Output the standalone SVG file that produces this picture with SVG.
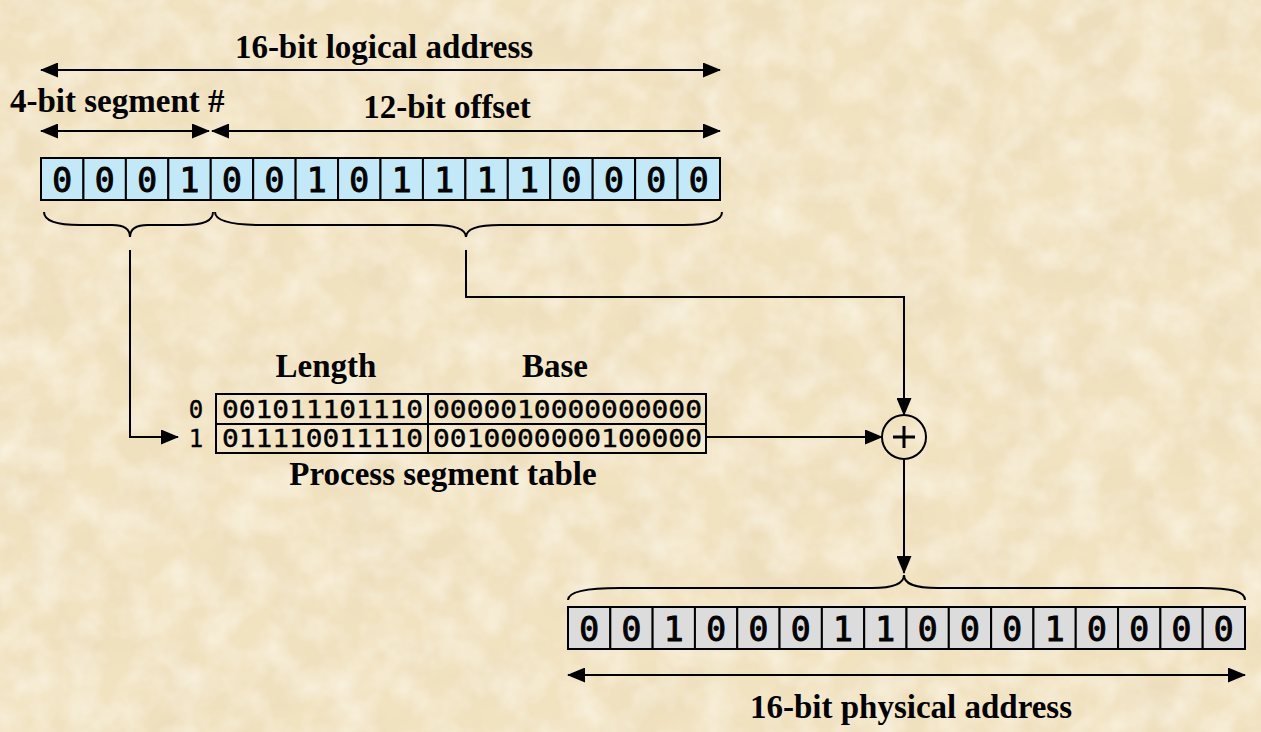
<svg xmlns="http://www.w3.org/2000/svg" width="1261" height="732" viewBox="0 0 1261 732">
<defs>
<filter id="paper" x="0" y="0" width="100%" height="100%">
<feTurbulence type="fractalNoise" baseFrequency="0.015" numOctaves="4" seed="7" result="n"/>
<feColorMatrix in="n" type="matrix" values="0 0 0 0 0.80  0 0 0 0 0.68  0 0 0 0 0.47  0.9 0 0 0 -0.36"/>
</filter>
<filter id="paper2" x="0" y="0" width="100%" height="100%">
<feTurbulence type="fractalNoise" baseFrequency="0.03" numOctaves="3" seed="21" result="n"/>
<feColorMatrix in="n" type="matrix" values="0 0 0 0 1  0 0 0 0 0.98  0 0 0 0 0.92  0 1.0 0 0 -0.35"/>
</filter>
<marker id="ah" markerUnits="userSpaceOnUse" markerWidth="18" markerHeight="15" refX="17" refY="7.5" orient="auto-start-reverse" viewBox="0 0 18 15">
<path d="M0,0 L18,7.5 L0,15 z" fill="#000"/>
</marker>
</defs>
<style>
.title{font-family:"Liberation Serif",serif;font-weight:bold;font-size:33px;fill:#000}
.bit{font-family:"DejaVu Sans Mono",monospace;font-size:33px;fill:#000;stroke:#000;stroke-width:1;text-anchor:middle}
.tbl{font-family:"DejaVu Sans Mono",monospace;font-size:24px;fill:#000;stroke:#000;stroke-width:0.4}
.cellT{fill:#c3e8f8;stroke:#000;stroke-width:2}
.cellB{fill:#dcdcdc;stroke:#000;stroke-width:2}
.ln{fill:none;stroke:#000;stroke-width:2}
.arr{fill:none;stroke:#000;stroke-width:2;marker-end:url(#ah)}
.darr{fill:none;stroke:#000;stroke-width:2;marker-end:url(#ah);marker-start:url(#ah)}
</style>
<rect width="1261" height="732" fill="#f1e2c0"/>
<rect width="1261" height="732" filter="url(#paper)"/>
<rect width="1261" height="732" filter="url(#paper2)"/>

<g id="logical-labels">
<text class="title" x="384" y="58" text-anchor="middle">16-bit logical address</text>
<line class="darr" x1="41" y1="70" x2="720" y2="70"/>
<text class="title" x="10" y="112">4-bit segment #</text>
<line class="darr" x1="41" y1="131" x2="209" y2="131"/>
<text class="title" x="447" y="118" text-anchor="middle">12-bit offset</text>
<line class="darr" x1="212" y1="131" x2="720" y2="131"/>
</g>

<g id="logical-register">
<rect class="cellT" x="41" y="158" width="42.44" height="42"/>
<rect class="cellT" x="83.44" y="158" width="42.44" height="42"/>
<rect class="cellT" x="125.88" y="158" width="42.44" height="42"/>
<rect class="cellT" x="168.31" y="158" width="42.44" height="42"/>
<rect class="cellT" x="210.75" y="158" width="42.44" height="42"/>
<rect class="cellT" x="253.19" y="158" width="42.44" height="42"/>
<rect class="cellT" x="295.63" y="158" width="42.44" height="42"/>
<rect class="cellT" x="338.06" y="158" width="42.44" height="42"/>
<rect class="cellT" x="380.5" y="158" width="42.44" height="42"/>
<rect class="cellT" x="422.94" y="158" width="42.44" height="42"/>
<rect class="cellT" x="465.38" y="158" width="42.44" height="42"/>
<rect class="cellT" x="507.81" y="158" width="42.44" height="42"/>
<rect class="cellT" x="550.25" y="158" width="42.44" height="42"/>
<rect class="cellT" x="592.69" y="158" width="42.44" height="42"/>
<rect class="cellT" x="635.13" y="158" width="42.44" height="42"/>
<rect class="cellT" x="677.56" y="158" width="42.44" height="42"/>
<text class="bit" y="192"><tspan x="62.2">0</tspan><tspan x="104.7">0</tspan><tspan x="147.1">0</tspan><tspan x="189.5">1</tspan><tspan x="232">0</tspan><tspan x="274.4">0</tspan><tspan x="316.8">1</tspan><tspan x="359.3">0</tspan><tspan x="401.7">1</tspan><tspan x="444.2">1</tspan><tspan x="486.6">1</tspan><tspan x="529">1</tspan><tspan x="571.5">0</tspan><tspan x="613.9">0</tspan><tspan x="656.3">0</tspan><tspan x="698.8">0</tspan></text>
</g>

<g id="braces-top">
<path class="ln" d="M44,212 C44,221 56,225 80,225 L112,225 C124,225 130,229 130,237 C130,229 136,225 148,225 L182,225 C204,225 213,221 213,212"/>
<path class="ln" d="M215,212 C215,221 232,225 262,225 L432,225 C456,225 466,229 466,237 C466,229 476,225 500,225 L684,225 C712,225 722,220 722,212"/>
</g>

<g id="segment-table">
<text class="title" x="326" y="377" text-anchor="middle">Length</text>
<text class="title" x="555" y="377" text-anchor="middle">Base</text>
<rect class="ln" x="216" y="394" width="490" height="59"/>
<line class="ln" x1="216" y1="424" x2="706" y2="424"/>
<line class="ln" x1="428" y1="394" x2="428" y2="453"/>
<text class="tbl" x="196" y="418" text-anchor="middle">0</text>
<text class="tbl" x="196" y="447" text-anchor="middle">1</text>
<text class="tbl" x="222" y="418" textLength="201" lengthAdjust="spacingAndGlyphs">001011101110</text>
<text class="tbl" x="222" y="447" textLength="201" lengthAdjust="spacingAndGlyphs">011110011110</text>
<text class="tbl" x="433" y="418" textLength="269" lengthAdjust="spacingAndGlyphs">0000010000000000</text>
<text class="tbl" x="433" y="447" textLength="269" lengthAdjust="spacingAndGlyphs">0010000000100000</text>
<text class="title" x="443" y="485" text-anchor="middle">Process segment table</text>
</g>

<g id="adder">
<circle cx="904" cy="437" r="22" fill="none" stroke="#000" stroke-width="2"/>
<path d="M893,437 H915 M904,426 V448" stroke="#000" stroke-width="3" fill="none"/>
</g>

<g id="connectors">
<path class="arr" d="M130,250 V437 H178"/>
<path class="arr" d="M466,250 V297 H904 V415"/>
<path class="arr" d="M706,437 H882"/>
<path class="arr" d="M904,459 V573"/>
</g>

<g id="brace-bottom">
<path class="ln" d="M568,600 C568,592 584,588 620,588 L872,588 C896,588 904,583 904,575 C904,583 912,588 938,588 L1200,588 C1234,588 1245,592 1245,600"/>
</g>

<g id="physical-register">
<rect class="cellB" x="568" y="607" width="42.31" height="42"/>
<rect class="cellB" x="610.31" y="607" width="42.31" height="42"/>
<rect class="cellB" x="652.63" y="607" width="42.31" height="42"/>
<rect class="cellB" x="694.94" y="607" width="42.31" height="42"/>
<rect class="cellB" x="737.25" y="607" width="42.31" height="42"/>
<rect class="cellB" x="779.56" y="607" width="42.31" height="42"/>
<rect class="cellB" x="821.88" y="607" width="42.31" height="42"/>
<rect class="cellB" x="864.19" y="607" width="42.31" height="42"/>
<rect class="cellB" x="906.5" y="607" width="42.31" height="42"/>
<rect class="cellB" x="948.81" y="607" width="42.31" height="42"/>
<rect class="cellB" x="991.13" y="607" width="42.31" height="42"/>
<rect class="cellB" x="1033.44" y="607" width="42.31" height="42"/>
<rect class="cellB" x="1075.75" y="607" width="42.31" height="42"/>
<rect class="cellB" x="1118.06" y="607" width="42.31" height="42"/>
<rect class="cellB" x="1160.38" y="607" width="42.31" height="42"/>
<rect class="cellB" x="1202.69" y="607" width="42.31" height="42"/>
<text class="bit" y="641"><tspan x="589.2">0</tspan><tspan x="631.5">0</tspan><tspan x="673.8">1</tspan><tspan x="716.1">0</tspan><tspan x="758.4">0</tspan><tspan x="800.7">0</tspan><tspan x="843">1</tspan><tspan x="885.3">1</tspan><tspan x="927.7">0</tspan><tspan x="970">0</tspan><tspan x="1012.3">0</tspan><tspan x="1054.6">1</tspan><tspan x="1096.9">0</tspan><tspan x="1139.2">0</tspan><tspan x="1181.5">0</tspan><tspan x="1223.8">0</tspan></text>
</g>

<g id="physical-labels">
<line class="darr" x1="568" y1="675" x2="1245" y2="675"/>
<text class="title" x="911" y="718" text-anchor="middle">16-bit physical address</text>
</g>
</svg>
